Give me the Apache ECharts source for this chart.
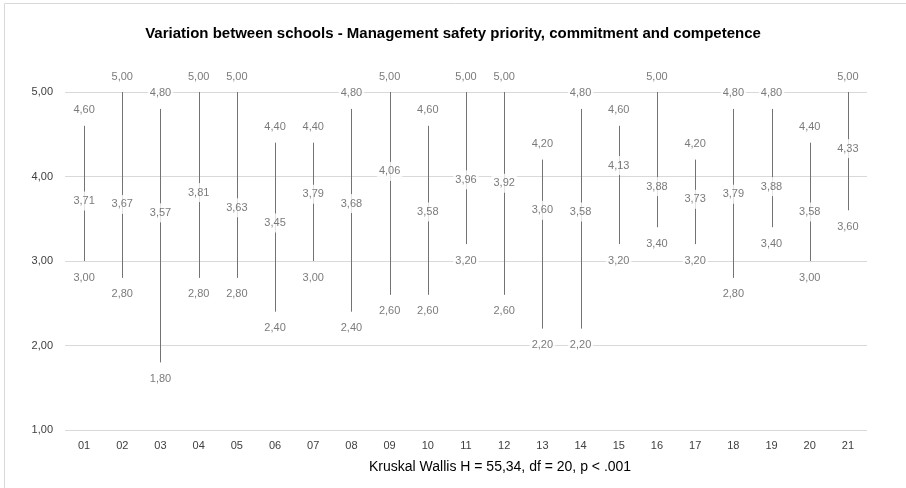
<!DOCTYPE html>
<html>
<head>
<meta charset="utf-8">
<script src="https://cdn.jsdelivr.net/npm/echarts@6/dist/echarts.min.js"></script>
<style>
  html, body { margin: 0; padding: 0; background: #fff; }
  #chart { width: 906px; height: 488px; }
</style>
</head>
<body>
<div id="chart"></div>
<script>
// School codes along the x axis
const schools = ['01','02','03','04','05','06','07','08','09','10','11','12','13','14','15','16','17','18','19','20','21'];
// Highest, mean and lowest score per school
const maxValues  = [4.60, 5.00, 4.80, 5.00, 5.00, 4.40, 4.40, 4.80, 5.00, 4.60, 5.00, 5.00, 4.20, 4.80, 4.60, 5.00, 4.20, 4.80, 4.80, 4.40, 5.00];
const meanValues = [3.71, 3.67, 3.57, 3.81, 3.63, 3.45, 3.79, 3.68, 4.06, 3.58, 3.96, 3.92, 3.60, 3.58, 4.13, 3.88, 3.73, 3.79, 3.88, 3.58, 4.33];
const minValues  = [3.00, 2.80, 1.80, 2.80, 2.80, 2.40, 3.00, 2.40, 2.60, 2.60, 3.20, 2.60, 2.20, 2.20, 3.20, 3.40, 3.20, 2.80, 3.40, 3.00, 3.60];

const titleText = 'Variation between schools - Management safety priority, commitment and competence';
const testText = 'Kruskal Wallis H = 55,34, df = 20, p < .001';

const fmt = v => v.toFixed(2).replace('.', ',');
const FONT = '"Liberation Sans", Arial, sans-serif';

const labelStyle = {
  show: true,
  color: '#595959',
  fontSize: 11,
  fontFamily: FONT,
  backgroundColor: '#ffffff',
  padding: [4, 2, 4, 2],
  formatter: p => fmt(p.value[1])
};

const chart = echarts.init(document.getElementById('chart'));
chart.setOption({
  animation: false,
  backgroundColor: '#ffffff',
  title: {
    text: titleText,
    left: 'center',
    top: 21,
    textStyle: { fontFamily: FONT, fontWeight: 'bold', fontSize: 15, color: '#000000' }
  },
  graphic: [
    {
      type: 'polyline',
      shape: { points: [[4.5, 500], [4.5, 3.5], [920, 3.5]] },
      style: { stroke: '#d9d9d9', lineWidth: 1, fill: null },
      silent: true
    },
    {
      type: 'text',
      left: 369,
      top: 460,
      style: { text: testText, fontFamily: FONT, fontSize: 14, fill: '#000000' }
    }
  ],
  grid: { left: 65, right: 39, top: 92, bottom: 58 },
  xAxis: {
    type: 'category',
    data: schools,
    axisLine: { show: false },
    axisTick: { show: false },
    axisLabel: { color: '#404040', fontSize: 11, fontFamily: FONT, margin: 10 }
  },
  yAxis: {
    type: 'value',
    min: 1,
    max: 5,
    interval: 1,
    axisLine: { show: false },
    axisTick: { show: false },
    axisLabel: { color: '#404040', fontSize: 11, fontFamily: FONT, margin: 12, formatter: v => fmt(v) },
    splitLine: { lineStyle: { color: '#d9d9d9', width: 1 } }
  },
  series: [
    {
      // vertical range line from lowest to highest score
      type: 'custom',
      z: 2,
      silent: true,
      data: schools.map((s, i) => [i, minValues[i], maxValues[i]]),
      encode: { x: 0, y: [1, 2] },
      renderItem: (params, api) => {
        const lo = api.coord([api.value(0), api.value(1)]);
        const hi = api.coord([api.value(0), api.value(2)]);
        const x = Math.round(lo[0]) + 0.5;
        return {
          type: 'line',
          shape: { x1: x, y1: lo[1], x2: x, y2: hi[1] },
          style: { stroke: '#737373', lineWidth: 1 }
        };
      }
    },
    {
      name: 'max',
      type: 'scatter',
      z: 5,
      symbolSize: 0,
      data: schools.map((s, i) => [i, maxValues[i]]),
      label: Object.assign({}, labelStyle, { position: 'top', distance: 6 })
    },
    {
      name: 'mean',
      type: 'scatter',
      z: 5,
      symbolSize: 0,
      data: schools.map((s, i) => [i, meanValues[i]]),
      label: Object.assign({}, labelStyle, { position: 'inside' })
    },
    {
      name: 'min',
      type: 'scatter',
      z: 5,
      symbolSize: 0,
      data: schools.map((s, i) => [i, minValues[i]]),
      label: Object.assign({}, labelStyle, { position: 'bottom', distance: 7 })
    }
  ]
});
</script>
</body>
</html>
